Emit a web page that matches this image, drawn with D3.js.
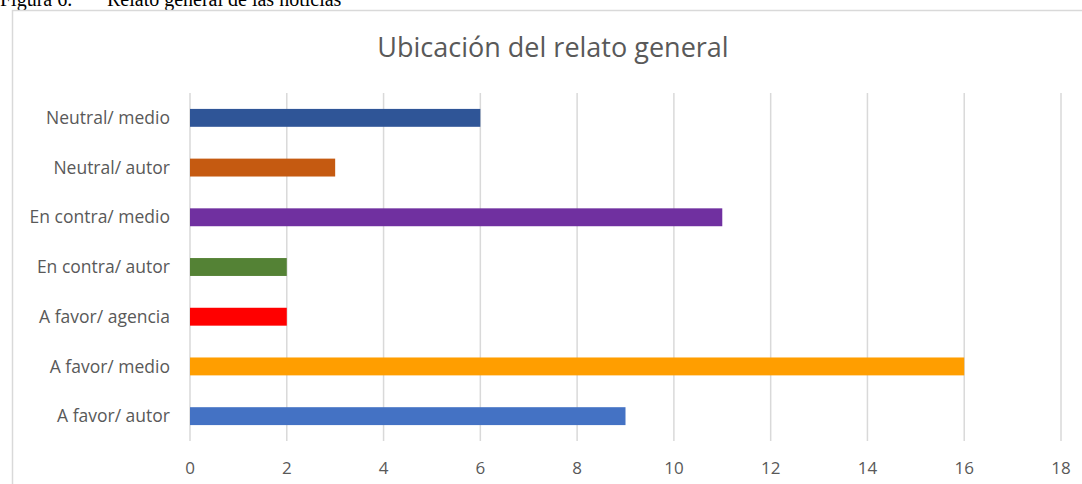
<!DOCTYPE html>
<html>
<head>
<meta charset="utf-8">
<script src="https://cdn.jsdelivr.net/npm/d3@7"></script>
<style>
  body { margin: 0; background: #fff; }
  svg { display: block; }
</style>
</head>
<body>
<svg id="chart" width="1082" height="484"></svg>
<script>
// data, top to bottom as drawn
const categories = ['Neutral/ medio', 'Neutral/ autor', 'En contra/ medio', 'En contra/ autor', 'A favor/ agencia', 'A favor/ medio', 'A favor/ autor'];
const values = [6, 3, 11, 2, 2, 16, 9];
const barColors = ['#2F5597', '#C55A11', '#7030A0', '#548235', '#FF0000', '#FF9E00', '#4472C4'];
const xTicks = [0, 2, 4, 6, 8, 10, 12, 14, 16, 18];

const svg = d3.select('#chart');
const font = '"Open Sans", "Noto Sans", sans-serif';
const margin = { top: 93, right: 21, bottom: 43, left: 190 };
const width = 1082, height = 484;

// caption above the chart box (cut at top)
const caption = svg.append('g')
  .style('font-family', '"Liberation Serif", serif')
  .style('font-size', '20px')
  .attr('fill', '#000');
caption.append('text').attr('x', 0).attr('y', 6).text('Figura 6.');
caption.append('text').attr('x', 107).attr('y', 6).text('Relato general de las noticias');

// chart area border
svg.append('rect')
  .attr('x', 12.5).attr('y', 10.5)
  .attr('width', 1080).attr('height', 490)
  .attr('fill', 'none')
  .attr('stroke', '#d9d9d9')
  .attr('stroke-width', 1.5);

const x = d3.scaleLinear()
  .domain([0, 18])
  .range([margin.left, width - margin.right]);

const y = d3.scaleBand()
  .domain(categories)
  .range([margin.top, height - margin.bottom])
  .paddingInner(0.64)
  .paddingOuter(0.32);

// gridlines
svg.append('g')
  .selectAll('line')
  .data(xTicks)
  .enter().append('line')
  .attr('x1', d => x(d)).attr('x2', d => x(d))
  .attr('y1', margin.top).attr('y2', height - margin.bottom)
  .attr('stroke', '#d9d9d9')
  .attr('stroke-width', 1.5);

// x tick labels
svg.append('g')
  .selectAll('text')
  .data(xTicks)
  .enter().append('text')
  .attr('x', d => x(d))
  .attr('y', 474)
  .attr('text-anchor', 'middle')
  .style('font-family', font)
  .style('font-size', '17px')
  .attr('fill', '#595959')
  .text(d => d);

// bars
svg.append('g')
  .selectAll('rect')
  .data(values)
  .enter().append('rect')
  .attr('x', x(0))
  .attr('y', (d, i) => y(categories[i]))
  .attr('width', d => x(d) - x(0))
  .attr('height', y.bandwidth())
  .attr('fill', (d, i) => barColors[i]);

// category labels
svg.append('g')
  .selectAll('text')
  .data(categories)
  .enter().append('text')
  .attr('x', 170)
  .attr('y', d => y(d) + y.bandwidth() / 2)
  .attr('dy', '0.35em')
  .attr('text-anchor', 'end')
  .style('font-family', font)
  .style('font-size', '17.5px')
  .attr('fill', '#595959')
  .text(d => d);

// title
svg.append('text')
  .attr('x', 553).attr('y', 57)
  .attr('text-anchor', 'middle')
  .style('font-family', font)
  .style('font-size', '27px')
  .attr('fill', '#595959')
  .text('Ubicación del relato general');
</script>
</body>
</html>
